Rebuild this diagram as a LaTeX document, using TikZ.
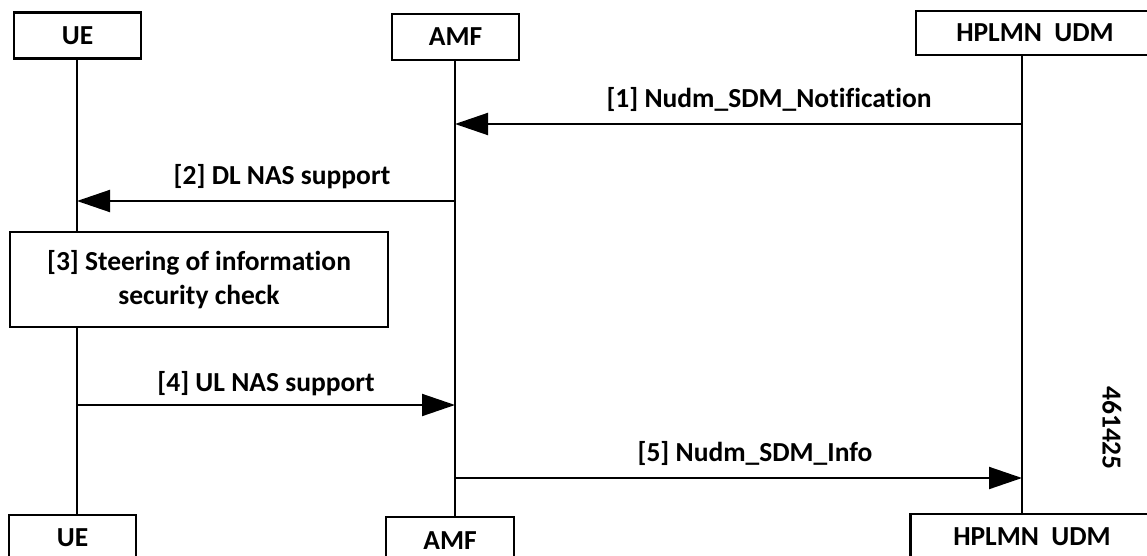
\documentclass[tikz,border=0pt]{standalone}
\usepackage{fontspec}
\setmainfont[Ligatures={NoCommon}]{Carlito}
\usetikzlibrary{arrows.meta}
\begin{document}
\begin{tikzpicture}[x=1pt,y=-1pt,
  every node/.style={font=\fontsize{27.5}{34}\selectfont\bfseries},
  actor/.style={draw, line width=2.2pt, minimum height=46pt, inner sep=0pt, fill=white},
  life/.style={line width=2pt},
  msg/.style={line width=2pt, -{Triangle[length=33pt,width=22pt]}},
  lbl/.style={inner sep=0pt, anchor=base},
  stepbox/.style={draw, line width=2.2pt, fill=white, minimum width=378pt, minimum height=95pt, align=center, inner sep=0pt}
]
\useasboundingbox (0,0) rectangle (1147,556);
\clip (0,0) rectangle (1147,556);

% actors top
\node[actor, minimum width=127pt] (ueTop) at (77.5,35.5) {UE};
\node[actor, minimum width=127pt] (amfTop) at (455.5,37) {AMF};
\node[actor, minimum width=238pt, minimum height=44pt] (udmTop) at (1035,33) {HPLMN\ \ UDM};
% actors bottom
\node[actor, minimum width=127pt, anchor=north] (ueBot) at (72.5,514) {UE};
\node[actor, minimum width=128pt, anchor=north] (amfBot) at (450,516) {AMF};
\node[actor, minimum width=243pt, anchor=north] (udmBot) at (1032,513) {HPLMN\ \ UDM};

% lifelines
\coordinate (ueL) at (77,59);
\coordinate (amfL) at (455,61);
\coordinate (udmL) at (1022,55);
\draw[life] (ueL) -- (ueL |- ueBot.north);
\draw[life] (amfL) -- (amfL |- amfBot.north);
\draw[life] (udmL) -- (udmL |- udmBot.north);

% step 3
\node[stepbox] (s3) at (199,279.5) {[3] Steering of information\\security check};

% message end points
\coordinate (m1a) at (1022,124);
\coordinate (m1b) at (455,124);
\coordinate (m2a) at (455,201);
\coordinate (m2b) at (77,201);
\coordinate (m4a) at (77,405);
\coordinate (m4b) at (455,405);
\coordinate (m5a) at (455,478);
\coordinate (m5b) at (1022,478);

\draw[msg] (m1a) -- (m1b);
\draw[msg] (m2a) -- (m2b);
\draw[msg] (m4a) -- (m4b);
\draw[msg] (m5a) -- (m5b);

\node[lbl] (l1) at (769,108) {[1] Nudm\_SDM\_Notification};
\node[lbl] (l2) at (282,184) {[2] DL NAS support};
\node[lbl] (l4) at (266,391) {[4] UL NAS support};
\node[lbl] (l5) at (755,461) {[5] Nudm\_SDM\_Info};

\node[rotate=-90, inner sep=0pt] (id) at (1112,428) {461425};
\end{tikzpicture}
\end{document}
